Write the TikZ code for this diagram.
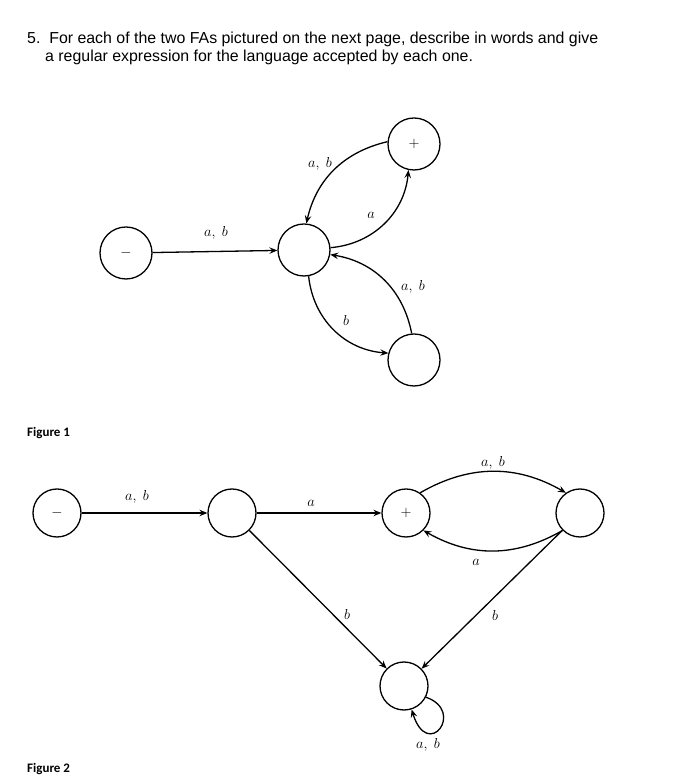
\documentclass[tikz,border=0pt]{standalone}
\usepackage{fontspec}
\setmainfont{Liberation Sans}
\newfontfamily\figfont{Carlito}
\usetikzlibrary{arrows.meta}

\tikzset{
  state/.style={draw, circle, line width=1.3pt, minimum size=52pt, inner sep=0pt, font=\Large},
  smallstate/.style={state, minimum size=48pt},
  edge/.style={line width=1.3pt, -{Stealth[length=8pt,width=6.5pt,inset=3pt]}},
  lbl/.style={font=\fontsize{14}{16}\selectfont, inner sep=0pt},
  figlbl/.style={anchor=base west, inner sep=0pt, font=\figfont\bfseries\fontsize{13}{15}\selectfont}
}

\begin{document}
\begin{tikzpicture}[x=1pt, y=1pt]
\useasboundingbox (0,0) rectangle (688,784);

% Question
\node[anchor=base west, inner sep=0pt, font=\fontsize{15.9}{18}\selectfont] (line1) at (27,740)
  {5.\ \ For each of the two FAs pictured on the next page, describe in words and give};
\node[anchor=base west, inner sep=0pt, font=\fontsize{15.9}{18}\selectfont] (line2) at (45,722)
  {a regular expression for the language accepted by each one.};

% Figure 1
\node[state] (s0) at (126,531) {$-$};
\node[state] (s1) at (304,534) {};
\node[state] (s2) at (414,640) {$+$};
\node[state] (s3) at (414,424) {};

\draw[edge] (s0) -- (s1);
\draw[edge] (s1.5) to[bend right=40] (s2.-102);
\draw[edge] (s2.175) to[bend right=32] (s1.85);
\draw[edge] (s1.-80) to[bend right=40] (s3.165);
\draw[edge] (s3.95) to[bend right=35] (s1.-10);

\node[lbl] (l01) at (216,551) {$a,\ b$};
\node[lbl] (l12) at (371,569) {$a$};
\node[lbl] (l21) at (320,620) {$a,\ b$};
\node[lbl] (l13) at (346,463) {$b$};
\node[lbl] (l31) at (413,497) {$a,\ b$};

\node[figlbl] (fig1) at (27,347) {Figure 1};

% Figure 2
\node[smallstate] (t0) at (57,271) {$-$};
\node[smallstate] (t1) at (232,271) {};
\node[smallstate] (t2) at (406,271) {$+$};
\node[smallstate] (t3) at (580,271) {};
\node[smallstate] (t4) at (404,98) {};

\draw[edge] (t0) -- (t1);
\draw[edge] (t1) -- (t2);
\draw[edge] (t2.55) to[bend left=30] (t3.125);
\draw[edge] (t3.-135) to[bend left=30] (t2.-45);
\draw[edge] (t1) -- (t4);
\draw[edge] (t3) -- (t4);
\draw[edge] (t4.-27) .. controls +(40,-14) and +(16,-52) .. (t4.-72);

\node[lbl] (m01) at (137,287) {$a,\ b$};
\node[lbl] (m12) at (311,281) {$a$};
\node[lbl] (m23) at (493,321) {$a,\ b$};
\node[lbl] (m32) at (476,222) {$a$};
\node[lbl] (m14) at (347,169) {$b$};
\node[lbl] (m34) at (495,168) {$b$};
\node[lbl] (m44) at (428,39) {$a,\ b$};

\node[figlbl] (fig2) at (27,12) {Figure 2};

\end{tikzpicture}
\end{document}
